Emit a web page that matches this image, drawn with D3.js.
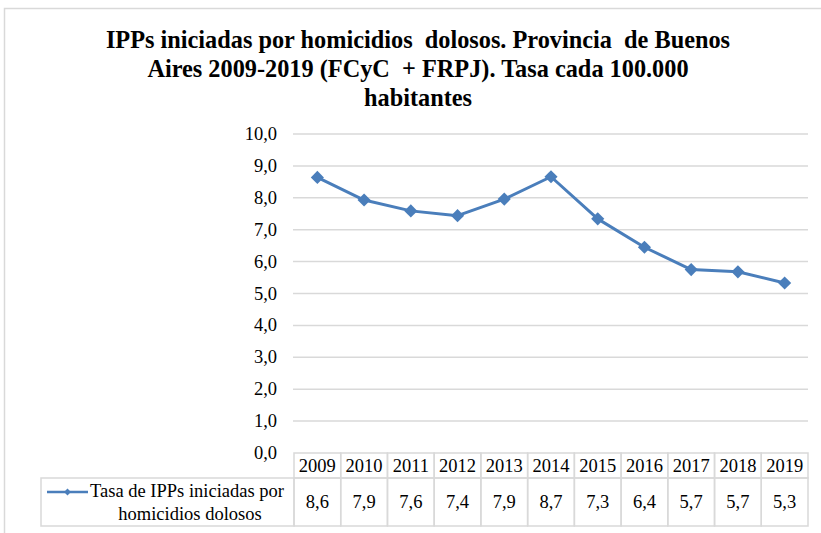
<!DOCTYPE html>
<html>
<head>
<meta charset="utf-8">
<script src="https://cdn.jsdelivr.net/npm/d3@7"></script>
<style>
  body { margin: 0; background: #fff; }
  svg text { font-family: "Liberation Serif", "Times New Roman", serif; fill: #000; }
</style>
</head>
<body>
<script>
  // data
  const years = ['2009', '2010', '2011', '2012', '2013', '2014', '2015', '2016', '2017', '2018', '2019'];
  const rates = [8.64, 7.93, 7.59, 7.44, 7.96, 8.66, 7.34, 6.45, 5.75, 5.68, 5.33];
  const rateLabels = ['8,6', '7,9', '7,6', '7,4', '7,9', '8,7', '7,3', '6,4', '5,7', '5,7', '5,3'];
  const yTicks = [0, 1, 2, 3, 4, 5, 6, 7, 8, 9, 10];
  const titleLines = [
    'IPPs iniciadas por homicidios  dolosos. Provincia  de Buenos',
    'Aires 2009-2019 (FCyC  + FRPJ). Tasa cada 100.000',
    'habitantes',
  ];
  const seriesName = ['Tasa de IPPs iniciadas por', 'homicidios dolosos'];

  const width = 821;
  const height = 533;
  const blue = '#4a7ebb';
  const grid = '#d9d9d9';
  const serif = '"Liberation Serif", "Times New Roman", serif';

  const svg = d3.select('body')
    .append('svg')
    .attr('width', width)
    .attr('height', height);

  // chart frame
  svg.append('rect')
    .attr('x', 4.5).attr('y', 8.5)
    .attr('width', 830).attr('height', 540)
    .style('fill', 'none')
    .style('stroke', grid)
    .style('stroke-width', 1.5);

  const plot = { left: 294, right: 808, top: 134, bottom: 453 };

  const x = d3.scaleBand().domain(years).range([plot.left, plot.right]);
  const y = d3.scaleLinear().domain([0, 10]).range([plot.bottom, plot.top]);
  const comma = d3.formatLocale({ decimal: ',', thousands: '.', grouping: [3], currency: ['', ''] }).format('.1f');

  // title
  svg.append('g')
    .selectAll('text')
    .data(titleLines)
    .enter()
    .append('text')
    .attr('x', 418)
    .attr('y', (d, i) => 48 + i * 29)
    .attr('text-anchor', 'middle')
    .style('font-family', serif)
    .style('font-weight', 'bold')
    .style('font-size', '24.3px')
    .style('white-space', 'pre')
    .text((d) => d);

  // gridlines
  svg.append('g')
    .selectAll('line')
    .data(yTicks.filter((d) => d > 0))
    .enter()
    .append('line')
    .attr('x1', plot.left - 1)
    .attr('x2', plot.right)
    .attr('y1', (d) => y(d))
    .attr('y2', (d) => y(d))
    .style('stroke', grid)
    .style('stroke-width', 1.5);

  // y axis labels
  const yAxis = svg.append('g')
    .attr('transform', `translate(${plot.left}, 0)`)
    .call(d3.axisLeft(y).tickValues(yTicks).tickFormat(comma).tickSize(0).tickPadding(17));
  yAxis.attr('font-family', null).attr('font-size', null);
  yAxis.select('.domain').remove();
  yAxis.selectAll('text')
    .style('font-family', serif)
    .style('font-size', '18.5px')
    .attr('dy', '0.3em');

  // data table
  const table = svg.append('g');
  table.selectAll('rect.year')
    .data(years)
    .enter()
    .append('rect')
    .attr('class', 'year')
    .attr('x', (d) => x(d))
    .attr('y', plot.bottom)
    .attr('width', x.bandwidth())
    .attr('height', 25)
    .style('fill', 'none')
    .style('stroke', grid)
    .style('stroke-width', 1.5);
  table.selectAll('text.year')
    .data(years)
    .enter()
    .append('text')
    .attr('class', 'year')
    .attr('x', (d) => x(d) + x.bandwidth() / 2)
    .attr('y', plot.bottom + 19)
    .attr('text-anchor', 'middle')
    .style('font-family', serif)
    .style('font-size', '18.5px')
    .text((d) => d);

  table.selectAll('rect.val')
    .data(years)
    .enter()
    .append('rect')
    .attr('class', 'val')
    .attr('x', (d) => x(d))
    .attr('y', plot.bottom + 25)
    .attr('width', x.bandwidth())
    .attr('height', 48)
    .style('fill', 'none')
    .style('stroke', grid)
    .style('stroke-width', 1.5);
  table.selectAll('text.val')
    .data(rateLabels)
    .enter()
    .append('text')
    .attr('class', 'val')
    .attr('x', (d, i) => x(years[i]) + x.bandwidth() / 2)
    .attr('y', plot.bottom + 55)
    .attr('text-anchor', 'middle')
    .style('font-family', serif)
    .style('font-size', '18.5px')
    .text((d) => d);

  // legend cell
  table.append('rect')
    .attr('x', 41)
    .attr('y', plot.bottom + 25)
    .attr('width', plot.left - 41)
    .attr('height', 48)
    .style('fill', 'none')
    .style('stroke', grid)
    .style('stroke-width', 1.5);
  table.append('line')
    .attr('x1', 47).attr('x2', 88)
    .attr('y1', 492).attr('y2', 492)
    .style('stroke', blue)
    .style('stroke-width', 2.5);
  table.append('path')
    .attr('d', d3.symbol(d3.symbolDiamond2, 30)())
    .attr('transform', 'translate(67.5, 492)')
    .style('fill', blue);
  table.selectAll('text.legend')
    .data(seriesName)
    .enter()
    .append('text')
    .attr('class', 'legend')
    .attr('x', (d, i) => (i === 0 ? 90 : 190))
    .attr('y', (d, i) => 497 + i * 23)
    .attr('text-anchor', (d, i) => (i === 0 ? 'start' : 'middle'))
    .style('font-family', serif)
    .style('font-size', '18.5px')
    .text((d) => d);

  // line and markers
  const line = d3.line()
    .x((d, i) => x(years[i]) + x.bandwidth() / 2)
    .y((d) => y(d));
  svg.append('path')
    .datum(rates)
    .attr('d', line)
    .style('fill', 'none')
    .style('stroke', blue)
    .style('stroke-width', 3)
    .style('stroke-linejoin', 'round');
  svg.append('g')
    .selectAll('path')
    .data(rates)
    .enter()
    .append('path')
    .attr('d', d3.symbol(d3.symbolDiamond2, 110)())
    .attr('transform', (d, i) => `translate(${x(years[i]) + x.bandwidth() / 2}, ${y(d)})`)
    .style('fill', blue);
</script>
</body>
</html>
